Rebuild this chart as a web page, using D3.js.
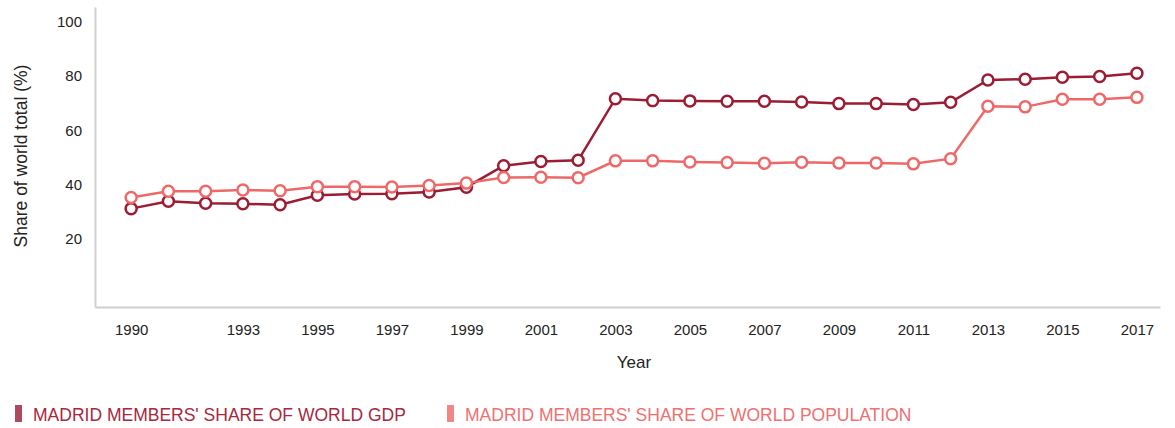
<!DOCTYPE html>
<meta charset="utf-8">
<style>
body { margin: 0; background: #fff; }
svg { font-family: "Liberation Sans", Arial, sans-serif; }
.axis path { stroke: #cfcfcf; stroke-width: 2px; }
.axis text { fill: #222; font-size: 15px; font-family: "Liberation Sans", Arial, sans-serif; }
</style>
<svg width="1175" height="428"></svg>
<script src="https://cdn.jsdelivr.net/npm/d3@7/dist/d3.min.js"></script>
<script>

var years = d3.range(1990, 2018);
var xTicks = [1990, 1993, 1995, 1997, 1999, 2001, 2003, 2005, 2007, 2009, 2011, 2013, 2015, 2017];
var yTicks = [20, 40, 60, 80, 100];

var gdpShare = [31.1, 33.8, 33.1, 32.9, 32.5, 36.0, 36.5, 36.6, 37.2, 39.0,
                46.9, 48.5, 48.9, 71.6, 70.9, 70.8, 70.7, 70.7, 70.4, 69.8,
                69.8, 69.5, 70.3, 78.5, 78.8, 79.5, 79.8, 81.0];
var popShare = [35.2, 37.5, 37.5, 38.0, 37.7, 39.2, 39.2, 39.1, 39.6, 40.5,
                42.6, 42.7, 42.5, 48.7, 48.7, 48.3, 48.1, 47.8, 48.2, 47.9,
                47.9, 47.6, 49.5, 68.8, 68.6, 71.4, 71.4, 72.1];

var seriesNames = ["MADRID MEMBERS' SHARE OF WORLD GDP", "MADRID MEMBERS' SHARE OF WORLD POPULATION"];
var seriesColors = ["#9b1c33", "#ef6868"];
var legendText = ["#a8283d", "#f07070"];

var svg = d3.select("svg");

var x = d3.scaleLinear().domain([1989.03, 2017.62]).range([95, 1160]);
var y = d3.scaleLinear().domain([-5.15, 105.4]).range([307, 7]);

// axes
svg.append("g")
    .attr("class", "axis")
    .attr("transform", "translate(0,307)")
    .call(d3.axisBottom(x).tickValues(xTicks).tickFormat(d3.format("d")).tickSize(0).tickPadding(17))
    .call(function(g) { g.selectAll(".tick line").remove(); });

svg.append("g")
    .attr("class", "axis")
    .attr("transform", "translate(95,0)")
    .call(d3.axisLeft(y).tickValues(yTicks).tickSize(0).tickPadding(13))
    .call(function(g) { g.selectAll(".tick line").remove(); });

svg.append("text")
    .attr("x", 634)
    .attr("y", 368)
    .attr("text-anchor", "middle")
    .style("font-size", "17px")
    .attr("fill", "#222")
    .text("Year");

svg.append("text")
    .attr("transform", "translate(27,156) rotate(-90)")
    .attr("text-anchor", "middle")
    .style("font-size", "17.5px")
    .attr("fill", "#222")
    .text("Share of world total (%)");

// lines + markers
var data = [gdpShare, popShare];
var line = d3.line()
    .x(function(d, i) { return x(years[i]); })
    .y(function(d) { return y(d); });

data.forEach(function(vals, k) {
  var g = svg.append("g");
  g.append("path")
      .datum(vals)
      .attr("fill", "none")
      .attr("stroke", seriesColors[k])
      .attr("stroke-width", 2.5)
      .attr("d", line);
  g.selectAll("circle")
      .data(vals)
      .enter().append("circle")
      .attr("cx", function(d, i) { return x(years[i]); })
      .attr("cy", function(d) { return y(d); })
      .attr("r", 5.5)
      .attr("fill", "#fff")
      .attr("stroke", seriesColors[k])
      .attr("stroke-width", 2.5);
});

// legend
var legendX = [15, 447];
seriesNames.forEach(function(name, k) {
  var lg = svg.append("g").attr("transform", "translate(" + legendX[k] + ",405)");
  lg.append("rect")
      .attr("width", 7)
      .attr("height", 17)
      .attr("fill", seriesColors[k])
      .attr("opacity", 0.8);
  lg.append("text")
      .attr("x", 18)
      .attr("y", 15.5)
      .style("font-size", "17.5px")
      .attr("fill", legendText[k])
      .text(name);
});

</script>
